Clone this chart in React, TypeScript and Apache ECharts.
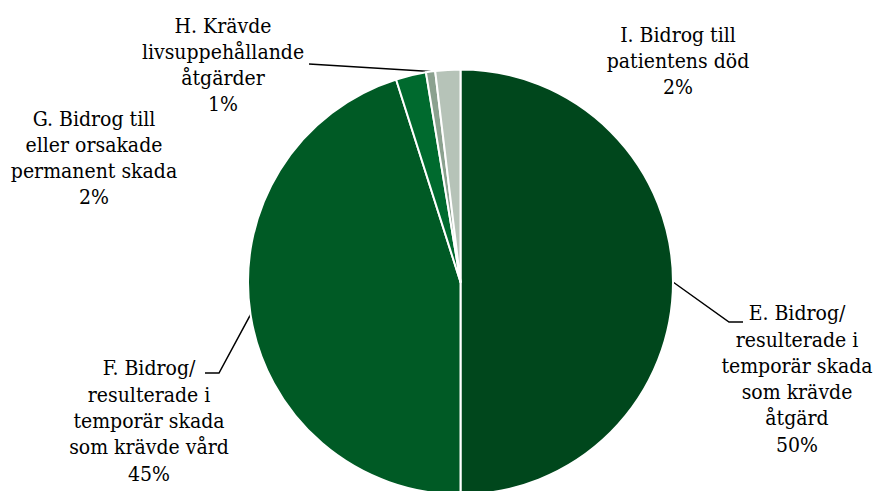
import React, { useEffect, useRef } from 'react';
import * as echarts from 'echarts';

const categories = [
  'E. Bidrog/\nresulterade i\ntemporär skada\nsom krävde\nåtgärd',
  'F. Bidrog/\nresulterade i\ntemporär skada\nsom krävde vård',
  'G. Bidrog till\neller orsakade\npermanent skada',
  'H. Krävde\nlivsuppehållande\nåtgärder',
  'I. Bidrog till\npatientens död',
];
const values = [50.0, 45.1, 2.3, 0.7, 1.9];
const colors = ['#00471c', '#005a25', '#006a2e', '#8ba18f', '#b6c3b8'];
const showLeader = [true, true, false, true, false];

// label layout (pixels)
const labelPos: number[][] = [
  [797, 379],
  [149, 421],
  [94, 158],
  [223, 65],
  [678, 61],
];
const leaderEnds: number[][][] = [
  [[729, 322], [743, 322]],
  [[219, 373], [205, 373]],
  [],
  [[309, 64]],
  [],
];

const CX = 460.5;
const CY = 282;
const R = 212.5;
const FONT = "'DejaVu Serif Condensed', 'DejaVu Serif', serif";

export default function App() {
  const ref = useRef<HTMLDivElement>(null);
  useEffect(() => {
    document.body.style.margin = '0';
    document.body.style.overflow = 'hidden';
    if (!ref.current) return;
    const chart = echarts.init(ref.current, null, { renderer: 'svg' });
    const total = values.reduce((a, b) => a + b, 0);
    const startOf = (i: number) => {
      let s = 0;
      for (let k = 0; k < i; k++) s += values[k];
      return s;
    };
    chart.setOption({
      animation: false,
      backgroundColor: '#ffffff',
      series: [
        {
          type: 'pie',
          center: [CX, CY],
          radius: R,
          startAngle: 90,
          clockwise: true,
          avoidLabelOverlap: false,
          emphasis: { disabled: true },
          itemStyle: { borderColor: '#ffffff', borderWidth: 2 },
          label: {
            show: true,
            position: 'outside',
            fontFamily: FONT,
            fontSize: 21,
            lineHeight: 26.3,
            color: '#000000',
            align: 'center',
            formatter: (p: any) => `${p.name}\n${Math.round(p.percent)}%`,
          },
          labelLine: {
            show: true,
            lineStyle: { color: '#000000', width: 1.5 },
          },
          labelLayout: (params: any) => {
            const i = params.dataIndex;
            const out: any = {
              x: labelPos[i][0],
              y: labelPos[i][1],
              align: 'center',
              verticalAlign: 'middle',
            };
            if (showLeader[i]) {
              const mid = (startOf(i) + values[i] / 2) / total;
              const ang = mid * Math.PI * 2;
              let start = [CX + R * Math.sin(ang), CY - R * Math.cos(ang)];
              if (params.labelLinePoints && params.labelLinePoints[0]) {
                start = params.labelLinePoints[0];
              }
              const pts = [start, ...leaderEnds[i]];
              if (pts.length === 2) pts.push(pts[1]);
              out.labelLinePoints = pts;
            }
            return out;
          },
          data: categories.map((name, i) => ({
            name,
            value: values[i],
            itemStyle: { color: colors[i] },
            labelLine: { show: showLeader[i] },
          })),
        },
      ],
    });
    return () => chart.dispose();
  }, []);
  return <div ref={ref} style={{ width: 875, height: 491 }} />;
}
